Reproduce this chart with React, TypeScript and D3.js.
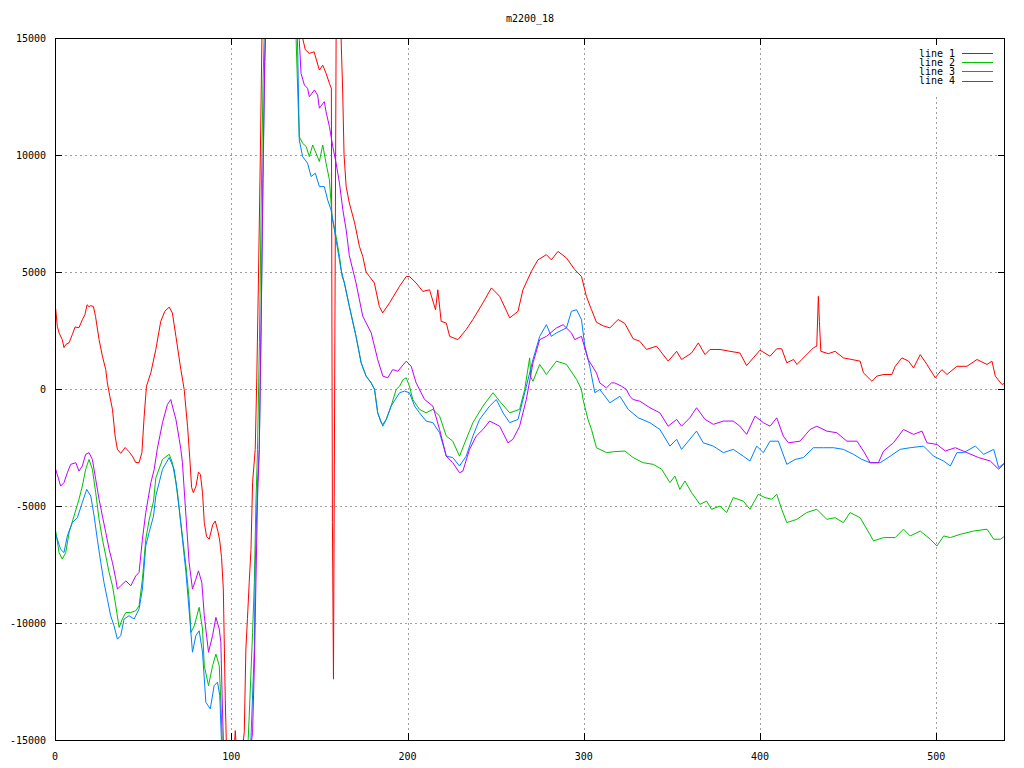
import React from "react";
import * as d3 from "d3";

const title = "m2200_18";
const xTicks = [0, 100, 200, 300, 400, 500];
const yTicks = [-15000, -10000, -5000, 0, 5000, 10000, 15000];
const seriesNames = ["line 1", "line 2", "line 3", "line 4"];
const seriesColors = ["#ff0000", "#00c000", "#0080ff", "#c000ff"];

type P = [number, number];

const line1: P[] = [
  [0.4, 3420], [1.3, 2680], [2.3, 2400], [4.1, 2110], [5.1, 1770], [6.1, 1900], [8, 1980], [9.8, 2320], [11.4, 2650], [13.6, 2620],
  [15.5, 2960], [17, 3180], [18.2, 3600], [19.3, 3520], [20.3, 3560], [21.8, 3530], [23, 3100], [25, 2110], [26.9, 1400], [28.8, 830],
  [29.7, 260], [31.1, -310], [32.6, -870], [34.1, -2010], [35.4, -2580], [37.3, -2750], [39.8, -2500], [42, -2680], [43.9, -2870], [45.8, -3140],
  [47.7, -3150], [49.3, -2720], [50.6, -1160], [51.9, 120], [54.4, 700], [57.2, 1690], [60, 2890], [62.3, 3320], [64.8, 3500], [66.6, 3250],
  [68.6, 2250], [71.4, 830], [73.3, -20], [75.2, -1590], [76.5, -3000], [77.5, -4200], [78.5, -4430], [80, -4150], [81.4, -3550], [82.5, -3650],
  [83.7, -4430], [84.7, -5710], [86, -6300], [87.5, -6420], [89.5, -5800], [90.9, -5640], [92.5, -6100], [93.5, -6500], [94.5, -7200], [95.5, -8550],
  [96.6, -13250], [97.5, -16000], [100, -17000], [101.7, -15300], [102.3, -14600], [103, -15500], [105, -17000], [106.5, -15300], [107.4, -14650], [108.3, -11110],
  [109.2, -9800], [110.2, -8260], [111.2, -6850], [112.1, -3990], [113.6, -2580], [114.5, 500], [115.5, 5000], [116.5, 10000], [117.5, 15500], [120, 19000],
  [130, 20000], [138, 17000], [140.5, 15000], [142, 14500], [144.3, 14340], [147, 14410], [150, 13630], [151.9, 13840], [153.8, 13490], [155.7, 13060],
  [156.8, 12850], [157.4, -5700], [158, -12400], [159.6, 17000], [161.5, 17000], [163.2, 12780], [164, 10000], [165.2, 8650], [167, 7950], [170, 7100],
  [172.7, 6100], [174.6, 5670], [176.5, 5000], [178.4, 4810], [181.2, 4530], [184, 3530], [185.9, 3250], [189.8, 3680], [195.5, 4390], [199.3, 4810],
  [201.1, 4810], [204.9, 4530], [208.7, 4170], [212.5, 4240], [215.9, 3390], [217.2, 4240], [219.1, 2890], [222, 2820], [223.9, 2250], [228.6, 2110],
  [233.3, 2540], [237.1, 2970], [242.8, 3680], [247.6, 4320], [252.3, 3960], [258, 3040], [262.7, 3320], [265.5, 4240], [270.3, 5030], [274, 5520],
  [278.8, 5740], [281.6, 5520], [285.4, 5880], [290.2, 5600], [294.9, 5100], [298.7, 4810], [301.5, 3960], [304.4, 3390], [307.2, 2850], [311, 2700],
  [314.8, 2610], [319.5, 2970], [323.3, 2800], [328, 2150], [331.8, 2040], [335.6, 1690], [341.3, 1830], [347.9, 1190], [352.7, 1610], [355.5, 1260],
  [361.2, 1540], [365, 1970], [368.8, 1470], [371.6, 1690], [377.3, 1690], [383, 1610], [388.6, 1540], [392.4, 1000], [396.2, 1330], [400, 1660],
  [405.7, 1400], [409.5, 1720], [412.3, 1720], [415.2, 1120], [419, 1260], [421, 1050], [423.7, 1260], [430.3, 1760], [432.2, 1830], [433.1, 3960],
  [433.7, 2890], [434.5, 1610], [438.8, 1510], [442.6, 1610], [447.3, 1330], [452.1, 1260], [456.8, 1190], [458.7, 690], [463.5, 330], [466.3, 550],
  [470.1, 620], [474.8, 620], [476.7, 970], [480.5, 1330], [484.3, 1190], [487.1, 900], [490.9, 1470], [494.7, 1050], [499.4, 480], [503.2, 830],
  [506.1, 620], [511.7, 970], [517.4, 970], [523.1, 1260], [528.8, 1050], [531.6, 1190], [533.5, 550], [537.3, 190], [539, 260],
];

const line2: P[] = [
  [0.4, -6070], [2.3, -6990], [4.1, -7270], [6.1, -6990], [8, -6130], [10.8, -5430], [13.6, -4710], [15.5, -4150], [17.4, -3430], [19.3, -3010],
  [21.2, -3430], [23.1, -4430], [25, -5570], [26.9, -6420], [28.8, -7130], [30.7, -7840], [32.6, -8410], [34.5, -9270], [36.4, -10190], [38.2, -9830],
  [40.2, -9550], [43, -9550], [45.8, -9480], [47.7, -9270], [49.6, -8130], [51.5, -6420], [53.4, -5600], [55.9, -4790], [57.2, -3800], [61, -3010],
  [64.8, -2790], [66.6, -3150], [68.6, -4000], [70.5, -5140], [72.3, -6280], [74.3, -7560], [76.1, -8980], [77.1, -10400], [79, -10120], [81.8, -9330],
  [83.7, -10260], [84.7, -11830], [87.1, -12680], [89.4, -11830], [91.3, -11330], [93.2, -11830], [94.1, -13390], [95, -15200], [96, -16500], [100, -17000],
  [105, -17000], [109, -16000], [110.2, -13960], [112.1, -10400], [113.1, -8270], [114, -4850], [114.9, -2580], [116, 2000], [117, 8000], [118, 13000],
  [119, 16000], [125, 19000], [132, 19000], [136, 16000], [136.8, 14910], [137.7, 12780], [138.6, 10780], [140.5, 10500], [142.5, 10360], [144.3, 9930],
  [146.2, 10430], [148.1, 10080], [150, 9720], [151.9, 10430], [153.8, 9650], [155.7, 8940], [157.2, 7370], [159.5, 6520], [161.4, 5670], [162.9, 4810],
  [164.2, 4530], [167, 3530], [170.8, 2250], [173.7, 1120], [176.5, 550], [179.4, 260], [181.3, -20], [183.1, -1020], [185, -1440], [186, -1510],
  [187.9, -1300], [190.7, -730], [193.6, -20], [195.5, 120], [197.5, 400], [199.3, 480], [201.1, 120], [203, -450], [206.8, -870], [210.6, -1020],
  [214.4, -870], [218.2, -1160], [222, -2010], [225.7, -2230], [229.5, -2870], [233.3, -2150], [237.1, -1440], [242.8, -730], [248.5, -160], [252.3, -520],
  [258, -1020], [263.6, -870], [266.5, -20], [269.3, 1330], [270, 500], [271.2, 330], [275, 1050], [278.8, 620], [284.5, 1190], [290.2, 1050],
  [295.9, 410], [298.7, -20], [299.6, -450], [302.4, -1300], [304.4, -1730], [307.2, -2510], [312.9, -2720], [317, -2680], [323.3, -2650], [328, -2930],
  [333.7, -3150], [339.4, -3220], [344.2, -3430], [348.9, -4000], [351.7, -3720], [354.5, -4290], [357.4, -3930], [361.2, -4430], [365.9, -4930], [369.7, -4790],
  [372.5, -5140], [377.3, -5000], [381.1, -5280], [384.8, -4640], [390.5, -4790], [394.3, -5140], [399, -4500], [402.8, -4640], [406.6, -4710], [409.5, -4500],
  [412.3, -5140], [415.2, -5710], [420.9, -5570], [426.5, -5280], [432.2, -5140], [437.9, -5570], [442.6, -5500], [447.3, -5710], [451.1, -5280], [456.8, -5500],
  [460.6, -5990], [464.4, -6490], [470.1, -6350], [476.7, -6350], [481.4, -5990], [485.2, -6280], [490.9, -6070], [496.6, -6420], [500.4, -6710], [504.2, -6280],
  [508, -6350], [513.6, -6210], [521.2, -6070], [528.8, -5990], [532.6, -6420], [536.4, -6420], [539, -6280],
];

const line3: P[] = [
  [0.4, -6210], [3.2, -6850], [5.1, -6990], [7, -6280], [9.8, -5710], [12.7, -5500], [15.5, -4850], [18, -4290], [20.3, -4570], [22.2, -5430],
  [24, -6420], [26, -7420], [27.8, -8270], [29.7, -8980], [31.6, -9690], [33.5, -10120], [35.4, -10690], [37.3, -10540], [39.2, -9830], [42, -9690],
  [44.9, -9830], [47.7, -9400], [49.6, -8550], [51.5, -6700], [53.4, -6130], [55.9, -5430], [57.2, -4570], [61, -3430], [64.8, -2930], [67.6, -3430],
  [69.5, -4430], [72.3, -6420], [74.3, -7840], [76.5, -9830], [78, -11250], [79.9, -10540], [81.8, -10330], [83.7, -11250], [85.6, -13390], [88.1, -13670],
  [90.3, -12680], [92.2, -12530], [93.5, -13110], [94.5, -15200], [96, -16500], [100, -17000], [105, -17000], [110, -16000], [111.2, -14900], [113.1, -11110],
  [113.6, -7560], [114.9, -4000], [115.9, -2580], [117, 3000], [118, 9000], [119, 14000], [120, 16500], [125, 19000], [132, 19000], [137, 16000],
  [137.7, 14480], [138.6, 10640], [140.5, 9930], [143.3, 9650], [145.3, 9080], [147.7, 9220], [150, 8650], [152.8, 8650], [154.7, 8080], [156.6, 7660],
  [158.5, 6800], [160.4, 5950], [162.3, 5100], [164.2, 4530], [167, 3530], [170.8, 2250], [173.7, 1120], [176.5, 550], [179.4, 260], [181.3, -20],
  [183.1, -1020], [186, -1590], [188, -1300], [190.7, -730], [195.5, -160], [198.3, -90], [201.1, -160], [204, -730], [206.8, -1020], [210.6, -1370],
  [214.4, -1440], [218.2, -1870], [222, -2870], [225.7, -2930], [229.5, -3290], [233.3, -2870], [237.1, -2010], [240.9, -1300], [246.6, -730], [250.4, -450],
  [254.2, -1020], [258, -1440], [262.7, -1300], [266.5, -160], [271.2, 1260], [275, 2250], [278.8, 2750], [281.6, 2250], [284.5, 2400], [290.2, 2610],
  [293, 3320], [295.9, 3390], [298.7, 2970], [300.6, 1830], [303.4, 970], [306.3, -160], [309.1, -20], [314.8, -590], [320.5, -310], [325.2, -870],
  [330.9, -1230], [337.5, -1440], [343.2, -1730], [348.9, -2440], [352.7, -2150], [355.5, -2580], [359.3, -2230], [364, -1800], [367.8, -2300], [373.5, -2440],
  [379.2, -2720], [384.8, -2580], [390.5, -2870], [394.3, -3080], [398.1, -2440], [401.9, -2720], [405.7, -2230], [410.4, -2230], [415.2, -3220], [419.9, -3010],
  [424.6, -2930], [430.3, -2510], [436, -2510], [441.7, -2510], [447.3, -2580], [453, -2790], [457.8, -3010], [462.5, -3150], [468.2, -3150], [473.9, -2870],
  [479.5, -2580], [485.2, -2510], [492.8, -2440], [498.5, -2870], [504.2, -3080], [508, -3290], [511.7, -2720], [515.5, -2720], [522.2, -2440], [526.9, -2790],
  [532.6, -2580], [535.4, -3360], [539, -3150],
];

const line4: P[] = [
  [0.4, -3430], [3.2, -4150], [5.1, -4000], [7, -3580], [8.9, -3220], [11.8, -3150], [13.6, -3510], [15.5, -3290], [17.4, -2790], [19.3, -2720],
  [21.2, -3010], [23.1, -3860], [25, -4710], [26.9, -5430], [28.8, -6130], [30.7, -6850], [32.6, -7420], [34.5, -8130], [35.4, -8550], [37.3, -8410],
  [40.2, -8200], [43, -8410], [45.8, -7990], [47.7, -7840], [49.6, -6420], [51.5, -5280], [54.4, -4000], [56.3, -3430], [58, -2580], [61, -1440],
  [63.8, -660], [65.7, -450], [66.6, -730], [68.6, -1300], [70.5, -2150], [71.4, -2580], [72.3, -3150], [74.3, -5430], [76.1, -7420], [78, -8550],
  [79.9, -8130], [81.4, -7770], [83.3, -8270], [84.7, -9690], [87.1, -11250], [89.4, -10540], [91.3, -9760], [93.2, -10260], [94.1, -10830], [95, -13670],
  [95.5, -14950], [96.5, -16500], [100, -17000], [105, -17000], [110, -16000], [112.1, -14670], [113.1, -11830], [114, -8270], [114.9, -4710], [115.9, -2580],
  [117, 3000], [118, 9000], [119, 14000], [120, 16500], [125, 19000], [132, 19000], [137, 17000], [138.6, 14900], [139.6, 13490], [141.5, 12990],
  [143.3, 12850], [144.3, 12490], [147.2, 12780], [149, 12560], [150, 12000], [152.8, 12280], [153.8, 11850], [155.7, 11210], [157.6, 10360], [159.5, 9650],
  [161.4, 8800], [163.3, 7660], [165.2, 6800], [167, 5700], [170.8, 4530], [174.6, 3110], [179.4, 2400], [183.1, 1260], [186, 550], [188.8, 480],
  [191.6, 830], [194.5, 760], [199.3, 1190], [202.1, 970], [204.9, 260], [209.7, -450], [214.4, -730], [218.2, -1730], [222, -2870], [225.7, -3150],
  [229.5, -3580], [231.4, -3510], [235.2, -2580], [239, -2010], [242.8, -1730], [246.6, -1370], [252.3, -1590], [257, -2300], [259.8, -2150], [263.6, -1590],
  [267.4, -450], [271.2, 1120], [275, 2110], [278.8, 2250], [284.5, 2610], [288.3, 2750], [293, 2400], [294.9, 2110], [298.7, 2250], [302.5, 1260],
  [307.2, 690], [309.1, 260], [312.9, 50], [315.7, 260], [317.6, 260], [321.4, 120], [324.2, -20], [326.1, -310], [328, -450], [331.8, -520],
  [337.5, -800], [343.2, -1020], [347.9, -1590], [352.7, -1300], [355.5, -1590], [360.2, -1230], [364, -800], [368.8, -1300], [373.5, -1510], [379.2, -1370],
  [384.8, -1370], [388.6, -1590], [392.4, -1940], [397.2, -1160], [401.9, -1440], [405.7, -1590], [409.5, -1230], [413.2, -2010], [416.1, -2300], [422.7, -2230],
  [428.4, -1730], [432.2, -1590], [437.9, -1800], [443.6, -1870], [449.3, -2230], [455, -2230], [458.7, -2650], [462.5, -3150], [467.2, -3150], [470.1, -2650],
  [475.7, -2300], [481.4, -1730], [487.1, -1940], [491.9, -1800], [494.7, -2300], [500.4, -2370], [505.1, -2650], [510.8, -2510], [517.4, -2720], [524, -2930],
  [530.7, -3080], [535.4, -3430], [539, -3150],
];

const seriesData = [line1, line2, line3, line4];

const W = 1024;
const H = 768;
const L = 55;
const R = 1005;
const T = 38;
const B = 740;
const FONT = "'DejaVu Sans Mono', 'Liberation Mono', monospace";

export default function App() {
  const x = d3.scaleLinear().domain([0, 539]).range([L, R]);
  const y = d3.scaleLinear().domain([-15000, 15000]).range([B, T]);
  const lineGen = d3
    .line<P>()
    .x((d) => x(d[0]))
    .y((d) => y(d[1]));

  return (
    <svg
      width={W}
      height={H}
      style={{ position: "absolute", left: 0, top: 0, background: "#fff" }}
      xmlns="http://www.w3.org/2000/svg"
    >
      <defs>
        <clipPath id="plotClip">
          <rect x={L} y={T} width={R - L} height={B - T} />
        </clipPath>
      </defs>
      <rect x={0} y={0} width={W} height={H} fill="#fff" />
      {/* grid */}
      <g stroke="#a0a0a0" strokeWidth={1} strokeDasharray="2,3">
        {xTicks.map((t) => (
          <line
            key={"gx" + t}
            x1={Math.round(x(t)) + 0.5}
            x2={Math.round(x(t)) + 0.5}
            y1={t === 500 ? 97 : T}
            y2={B}
          />
        ))}
        {yTicks.map((t) => (
          <line
            key={"gy" + t}
            x1={L}
            x2={R}
            y1={Math.round(y(t)) + 0.5}
            y2={Math.round(y(t)) + 0.5}
          />
        ))}
      </g>
      {/* data */}
      <g clipPath="url(#plotClip)" fill="none" strokeWidth={1}>
        {seriesData.map((s, i) => (
          <path key={"s" + i} d={lineGen(s) || ""} stroke={seriesColors[i]} />
        ))}
      </g>
      {/* border */}
      <rect
        x={L + 0.5}
        y={T + 0.5}
        width={R - L - 1}
        height={B - T}
        fill="none"
        stroke="#000"
        strokeWidth={1}
      />
      {/* ticks */}
      <g stroke="#000" strokeWidth={1}>
        {xTicks.map((t) => {
          const px = Math.round(x(t)) + 0.5;
          return (
            <g key={"tx" + t}>
              <line x1={px} x2={px} y1={B} y2={B - 7} />
              <line x1={px} x2={px} y1={T} y2={T + 7} />
            </g>
          );
        })}
        {yTicks.map((t) => {
          const py = Math.round(y(t)) + 0.5;
          return (
            <g key={"ty" + t}>
              <line x1={L} x2={L + 7} y1={py} y2={py} />
              <line x1={R} x2={R - 7} y1={py} y2={py} />
            </g>
          );
        })}
      </g>
      {/* tick labels */}
      <g fontFamily={FONT} fontSize={10} fill="#000">
        {xTicks.map((t) => (
          <text key={"lx" + t} x={x(t)} y={760} textAnchor="middle">
            {t}
          </text>
        ))}
        {yTicks.map((t) => (
          <text key={"ly" + t} x={46} y={y(t) + 4} textAnchor="end">
            {t}
          </text>
        ))}
      </g>
      {/* title */}
      <text
        x={(L + R) / 2}
        y={22}
        textAnchor="middle"
        fontFamily={FONT}
        fontSize={10}
        fill="#000"
      >
        {title}
      </text>
      {/* legend */}
      <g fontFamily={FONT} fontSize={10}>
        {seriesNames.map((n, i) => {
          const cy = 53 + i * 9.2;
          return (
            <g key={"lg" + i}>
              <text x={955} y={cy + 3.5} textAnchor="end" fill="#000">
                {n}
              </text>
              <line
                x1={962}
                x2={993}
                y1={Math.round(cy) + 0.5}
                y2={Math.round(cy) + 0.5}
                stroke={seriesColors[i]}
                strokeWidth={1}
              />
            </g>
          );
        })}
      </g>
    </svg>
  );
}
